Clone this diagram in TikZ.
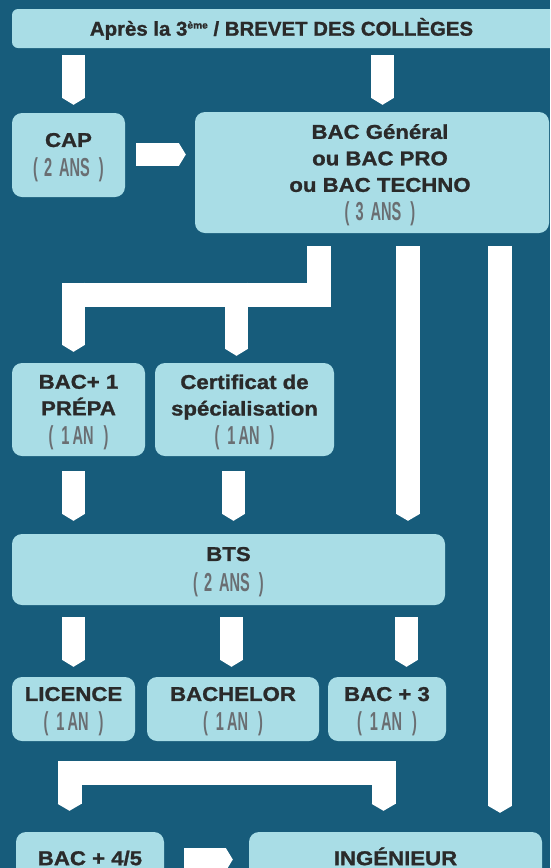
\documentclass[tikz,border=0pt]{standalone}
\usepackage{fontspec}
\setmainfont{Liberation Sans}
\newfontfamily\bfam[FakeStretch=1.11,FakeBold=1.2]{Liberation Sans Bold}
\newfontfamily\tfam[FakeStretch=1.02,FakeBold=1.2]{Liberation Sans Bold}
\newfontfamily\gfam[FakeStretch=0.56]{Liberation Sans Bold}
\usetikzlibrary{arrows.meta}
\definecolor{bg}{HTML}{175C7B}
\definecolor{boxc}{HTML}{A9DDE6}
\definecolor{txt}{HTML}{2A2A2A}
\definecolor{grayc}{HTML}{6A6E72}
\newcommand\bx{\bfam\fontsize{20}{26.5}\selectfont}
\newcommand\gr[1]{\raisebox{0pt}[\height][0pt]{\gfam\fontsize{26}{26}\selectfont\color{grayc}#1}}
\newcommand\twoans{\gr{(\hspace{6pt}2\hspace{7pt}ANS\hspace{9pt})}}
\newcommand\troisans{\gr{(\hspace{6pt}3\hspace{7pt}ANS\hspace{9pt})}}
\newcommand\unan{\gr{(\hspace{8pt}1\hspace{3pt}AN\hspace{10pt})}}
\tikzset{
  box/.style={fill=boxc, rounded corners=10pt, inner sep=0pt, align=center, text=txt, font=\bx},
  btxt/.style={inner sep=0pt, align=center, text=txt, font=\bx},
  conn/.style={draw=white, line width=23pt, -{Triangle[width=23pt,length=7pt,line width=0pt]}},
  connw/.style={draw=white, line width=24pt, -{Triangle[width=24pt,length=7pt,line width=0pt]}},
  connb/.style={draw=white, line width=24pt, line join=miter, {Triangle[width=24pt,length=7pt,line width=0pt]}-{Triangle[width=24pt,length=7pt,line width=0pt]}},
  barw/.style={draw=white, line width=24pt, line join=miter},
}
\begin{document}
\begin{tikzpicture}[x=1pt,y=-1pt]
\fill[bg] (0,0) rectangle (550,868);
\useasboundingbox (0,0) rectangle (550,868);
\clip (0,0) rectangle (550,868);

% boxes
\node[box, rounded corners=6pt, minimum width=544pt, minimum height=39pt, font=\tfam\fontsize{20}{24}\selectfont, text height=14.3pt, text depth=0pt] (top) at (284,28.5)
  {\hspace*{-5pt}Après la 3\raisebox{7pt}{\fontsize{10}{10}\selectfont ème} / BREVET DES COLLÈGES};
\node[box, minimum width=113pt, minimum height=84pt] (cap) at (68.5,155) {CAP\\[3.5pt]\twoans};
\node[box, minimum width=354pt, minimum height=121pt] (bac) at (372,172.5) {};
\node[btxt] (bactxt) at (380,172.5) {BAC Général\\ou BAC PRO\\ou BAC TECHNO\\[2.5pt]\troisans};
\node[box, minimum width=133pt, minimum height=93pt] (bac1) at (78.5,409.5) {BAC+ 1\\PRÉPA\\[2.5pt]\unan};
\node[box, minimum width=179pt, minimum height=93pt] (cert) at (244.5,409.5) {Certificat de\\spécialisation\\[2.5pt]\unan};
\node[box, minimum width=433pt, minimum height=71pt] (bts) at (228.5,569.5) {BTS\\[4.5pt]\twoans};
\node[box, minimum width=123pt, minimum height=64pt] (lic) at (73.5,709) {LICENCE\\[3.5pt]\unan};
\node[box, minimum width=172pt, minimum height=64pt] (bach) at (233,709) {BACHELOR\\[3.5pt]\unan};
\node[box, minimum width=118pt, minimum height=64pt] (bac3) at (387,709) {BAC + 3\\[3.5pt]\unan};
\node[box, minimum width=148pt, minimum height=52pt, text height=14.3pt, text depth=0pt] (bac45) at (90,858) {BAC + 4/5};
\node[box, minimum width=293pt, minimum height=52pt, text height=14.3pt, text depth=0pt] (ing) at (395.5,858) {INGÉNIEUR};

% connectors
\draw[conn, shorten <=7pt, shorten >=8pt] (top.south -| 73.5,0) -- (cap.north -| 73.5,0);
\draw[conn, shorten <=7pt, shorten >=7pt] (top.south -| 382.5,0) -- (bac.north -| 382.5,0);
\draw[conn, shorten <=11pt, shorten >=9pt] (cap.east |- 0,154.5) -- (bac.west |- 0,154.5);

\coordinate (j1) at (73.5,282.5);
\coordinate (j2) at (236.5,282.5);
\draw[barw, shorten <=13pt] (bac.south -| 318.5,0) -- (318.5,294.5) -- (73.5,294.5);
\draw[conn, shorten >=11pt] (j1) -- (bac1.north -| j1);
\draw[conn, shorten >=7pt] (j2) -- (cert.north -| j2);

\draw[connw, shorten <=13pt, shorten >=13pt] (bac.south -| 408,0) -- (bts.north -| 408,0);
\draw[connw, shorten <=13pt, shorten >=19pt] (bac.south -| 500,0) -- (ing.north -| 500,0);

\draw[conn, shorten <=15pt, shorten >=13pt] (bac1.south -| 73.5,0) -- (bts.north -| 73.5,0);
\draw[conn, shorten <=15pt, shorten >=13pt] (cert.south -| 233.5,0) -- (bts.north -| 233.5,0);

\draw[conn, shorten <=12pt, shorten >=10pt] (bts.south -| 73.5,0) -- (lic.north -| 73.5,0);
\draw[conn, shorten <=12pt, shorten >=10pt] (bts.south -| 231.5,0) -- (bach.north -| 231.5,0);
\draw[conn, shorten <=12pt, shorten >=10pt] (bts.south -| 406.5,0) -- (bac3.north -| 406.5,0);

\draw[connb, shorten <=21pt, shorten >=21pt] (bac45.north -| 69.5,0) -- (69.5,772.5) -- (383.5,772.5) -- (ing.north -| 383.5,0);
\draw[conn, shorten <=20pt, shorten >=16pt] (bac45.east |- 0,859.5) -- (ing.west |- 0,859.5);
\end{tikzpicture}
\end{document}
